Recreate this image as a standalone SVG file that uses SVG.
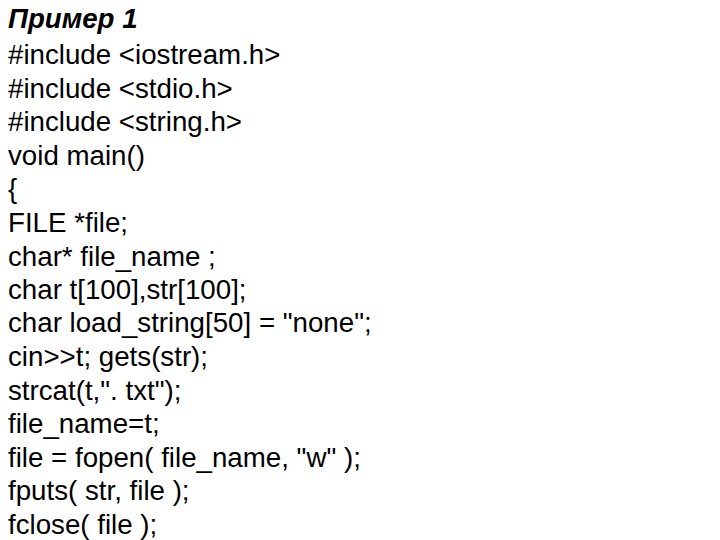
<svg xmlns="http://www.w3.org/2000/svg" width="720" height="540" viewBox="0 0 720 540">
<style>text{font-family:"Liberation Sans",Arial,sans-serif;font-size:27.7px;fill:#000}.h{font-weight:bold;font-style:italic}</style>
<rect width="720" height="540" fill="#fff"/>
<g id="code">
<text x="8" y="28" class="h">Пример 1</text>
<text x="8" y="64">#include &lt;iostream.h&gt;</text>
<text x="8" y="98">#include &lt;stdio.h&gt;</text>
<text x="8" y="131">#include &lt;string.h&gt;</text>
<text x="8" y="165">void main()</text>
<text x="8" y="198">{</text>
<text x="8" y="232">FILE *file;</text>
<text x="8" y="266">char* file_name ;</text>
<text x="8" y="299">char t[100],str[100];</text>
<text x="8" y="332">char load_string[50] = "none";</text>
<text x="8" y="366">cin&gt;&gt;t; gets(str);</text>
<text x="8" y="400">strcat(t,". txt");</text>
<text x="8" y="433">file_name=t;</text>
<text x="8" y="467">file = fopen( file_name, "w" );</text>
<text x="8" y="500">fputs( str, file );</text>
<text x="8" y="534">fclose( file );</text>
</g>
</svg>
